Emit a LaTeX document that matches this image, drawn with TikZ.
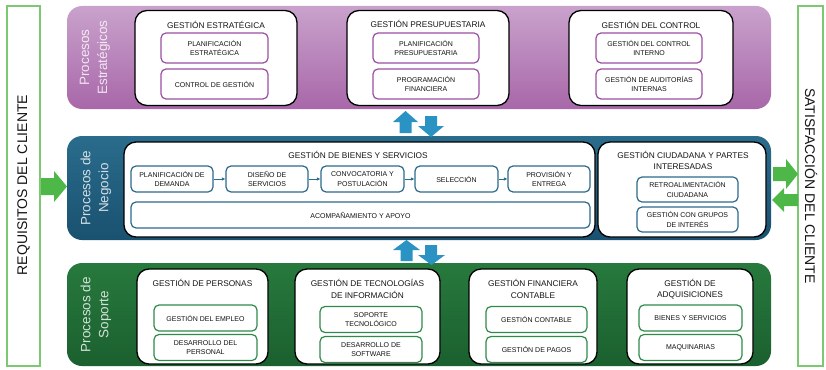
\documentclass[tikz,border=0pt]{standalone}
\usepackage{fontspec}
\setmainfont{Liberation Sans}
\usetikzlibrary{arrows.meta}

\definecolor{purpleTop}{HTML}{C9A2CC}
\definecolor{purpleBot}{HTML}{A867A9}
\definecolor{blueTop}{HTML}{2A6C8C}
\definecolor{blueBot}{HTML}{1A5170}
\definecolor{greenTop}{HTML}{27793D}
\definecolor{greenBot}{HTML}{1B602F}
\definecolor{subPurple}{HTML}{9C4DA3}
\definecolor{subBlue}{HTML}{2C6A8C}
\definecolor{subGreen}{HTML}{2F8A4A}
\definecolor{flowBlue}{HTML}{2A93C4}
\definecolor{flowGreen}{HTML}{4DB848}
\definecolor{sideGreen}{HTML}{7DC873}
\definecolor{ink}{HTML}{141414}

\begin{document}
\begin{tikzpicture}[x=1pt,y=-1pt,
  band/.style={rounded corners=15pt, minimum width=704pt, minimum height=103pt, inner sep=0pt},
  group/.style={draw=black, line width=1.3pt, fill=white, rounded corners=12pt, inner sep=0pt, minimum height=95pt},
  item/.style={draw, line width=1.2pt, fill=white, rounded corners=5pt, inner sep=0pt,
    align=center, font=\fontsize{7}{9.5}\selectfont, text=ink},
  itemP/.style={item, draw=subPurple, minimum height=30pt},
  itemB/.style={item, draw=subBlue, minimum height=26pt},
  itemG/.style={item, draw=subGreen, minimum height=26pt},
  gtitle/.style={font=\fontsize{8.3}{11.5}\selectfont, align=center, inner sep=0pt, text=ink},
  bandlabel/.style={rotate=90, font=\fontsize{13.5}{18}\selectfont, text=white, text opacity=0.8, align=center, inner sep=0pt},
  sidebox/.style={draw=sideGreen, line width=1.2pt, minimum height=360pt, inner sep=0pt},
  sidetext/.style={font=\fontsize{14}{16}\selectfont, text=ink, inner sep=0pt},
  flow/.style={draw=subBlue, line width=1pt, -{Latex[length=3.5pt,width=3.5pt]}},
  updown/.style={fill=flowBlue},
  inout/.style={fill=flowGreen},
]
\useasboundingbox (0,0) rectangle (826,369);

% ---------- side panels ----------
\node[sidebox, minimum width=33pt] (req) at (23.5,186) {};
\node[sidetext, rotate=90] (reqtxt) at (23.5,185) {REQUISITOS DEL CLIENTE};
\node[sidebox, minimum width=25pt] (sat) at (810.5,186) {};
\node[sidetext, rotate=-90] (sattxt) at (811,186) {SATISFACCIÓN DEL CLIENTE};

% ---------- strategic processes ----------
\node[band, top color=purpleTop, bottom color=purpleBot] (strat) at (419,57.5) {};
\node[bandlabel] (stratlbl) at (95,57.5) {Procesos\\Estratégicos};

\node[group, minimum width=162pt] (gE) at (216,58) {};
\node[gtitle] (gEt) at (216,24.5) {GESTIÓN ESTRATÉGICA};
\node[itemP, minimum width=107pt] (gE1) at (214.5,48) {PLANIFICACIÓN\\ESTRATÉGICA};
\node[itemP, minimum width=107pt] (gE2) at (214.5,84) {CONTROL DE GESTIÓN};

\node[group, minimum width=162pt] (gP) at (428,58) {};
\node[gtitle] (gPt) at (428,24) {GESTIÓN PRESUPUESTARIA};
\node[itemP, minimum width=106pt] (gP1) at (426,48) {PLANIFICACIÓN\\PRESUPUESTARIA};
\node[itemP, minimum width=106pt] (gP2) at (426,84) {PROGRAMACIÓN\\FINANCIERA};

\node[group, minimum width=164pt] (gC) at (651,58) {};
\node[gtitle] (gCt) at (651,24.5) {GESTIÓN DEL CONTROL};
\node[itemP, minimum width=106pt] (gC1) at (649,48) {GESTIÓN DEL CONTROL\\INTERNO};
\node[itemP, minimum width=106pt] (gC2) at (649,84) {GESTIÓN DE AUDITORÍAS\\INTERNAS};

% ---------- business processes ----------
\node[band, minimum height=104pt, top color=blueTop, bottom color=blueBot] (biz) at (419,188) {};
\node[bandlabel] (bizlbl) at (96,188) {Procesos de\\Negocio};

\node[group, minimum width=471pt] (gB) at (359.5,189.5) {};
\node[gtitle] (gBt) at (358,155) {GESTIÓN DE BIENES Y SERVICIOS};
\node[itemB, minimum width=82pt] (pd) at (172,179) {PLANIFICACIÓN DE\\DEMANDA};
\node[itemB, minimum width=82pt] (ds) at (267,179) {DISEÑO DE\\SERVICIOS};
\node[itemB, minimum width=83pt] (cv) at (362.5,179) {CONVOCATORIA Y\\POSTULACIÓN};
\node[itemB, minimum width=83pt] (se) at (456.5,179) {SELECCIÓN};
\node[itemB, minimum width=82pt] (pe) at (549,179) {PROVISIÓN Y\\ENTREGA};
\node[itemB, minimum width=459pt] (aa) at (360.5,215) {ACOMPAÑAMIENTO Y APOYO};
\draw[flow] (pd) -- (ds);
\draw[flow] (ds) -- (cv);
\draw[flow] (cv) -- (se);
\draw[flow] (se) -- (pe);

\node[group, minimum width=168pt] (gZ) at (682,189.5) {};
\node[gtitle] (gZt) at (683,160.5) {GESTIÓN CIUDADANA Y PARTES\\INTERESADAS};
\node[itemB, minimum width=101pt, minimum height=25pt] (gZ1) at (687.5,189.5) {RETROALIMENTACIÓN\\CIUDADANA};
\node[itemB, minimum width=101pt, minimum height=25pt] (gZ2) at (687.5,219.5) {GESTIÓN CON GRUPOS\\DE INTERÉS};

% ---------- support processes ----------
\node[band, top color=greenTop, bottom color=greenBot] (sup) at (419,314.5) {};
\node[bandlabel] (suplbl) at (96,314.5) {Procesos de\\Soporte};

\node[group, minimum width=131pt] (gH) at (202.5,316.5) {};
\node[gtitle] (gHt) at (202.5,283) {GESTIÓN DE PERSONAS};
\node[itemG, minimum width=103pt] (gH1) at (205.5,318) {GESTIÓN DEL EMPLEO};
\node[itemG, minimum width=103pt] (gH2) at (205.5,347.5) {DESARROLLO DEL\\PERSONAL};

\node[group, minimum width=145pt] (gT) at (367.5,316.5) {};
\node[gtitle] (gTt) at (367.5,288.7) {GESTIÓN DE TECNOLOGÍAS\\DE INFORMACIÓN};
\node[itemG, minimum width=102pt] (gT1) at (371,319.5) {SOPORTE\\TECNOLÓGICO};
\node[itemG, minimum width=102pt] (gT2) at (371,349.5) {DESARROLLO DE\\SOFTWARE};

\node[group, minimum width=128pt] (gF) at (533,316.5) {};
\node[gtitle] (gFt) at (533,288.7) {GESTIÓN FINANCIERA\\CONTABLE};
\node[itemG, minimum width=101pt] (gF1) at (536.5,319.5) {GESTIÓN CONTABLE};
\node[itemG, minimum width=101pt] (gF2) at (536.5,349.5) {GESTIÓN DE PAGOS};

\node[group, minimum width=126pt] (gA) at (690,316.5) {};
\node[gtitle] (gAt) at (690,289) {GESTIÓN DE\\ADQUISICIONES};
\node[itemG, minimum width=103pt] (gA1) at (690.5,318) {BIENES Y SERVICIOS};
\node[itemG, minimum width=103pt] (gA2) at (690.5,347.5) {MAQUINARIAS};

% ---------- two-way exchange between levels ----------
\fill[updown] (399.5,133) -- (399.5,122) -- (393,122) -- (405.5,111) -- (418,122) -- (411.5,122) -- (411.5,133) -- cycle;
\fill[updown] (425,116) -- (437,116) -- (437,126) -- (444,126) -- (431,137) -- (418,126) -- (425,126) -- cycle;
\fill[updown] (400.5,261) -- (400.5,250) -- (393,250) -- (406.5,240) -- (420,250) -- (412.5,250) -- (412.5,261) -- cycle;
\fill[updown] (425,245) -- (437,245) -- (437,255) -- (445,255) -- (431.5,265) -- (418,255) -- (425,255) -- cycle;

% ---------- customer input and output ----------
\fill[inout] (41,178) -- (54,178) -- (54,171) -- (67,186.5) -- (54,202) -- (54,195) -- (41,195) -- cycle;
\fill[inout] (773,167) -- (786,167) -- (786,159) -- (798,174) -- (786,189) -- (786,181) -- (773,181) -- cycle;
\fill[inout] (798,194) -- (784,194) -- (784,188) -- (772,200) -- (784,212) -- (784,206) -- (798,206) -- cycle;
\end{tikzpicture}
\end{document}
